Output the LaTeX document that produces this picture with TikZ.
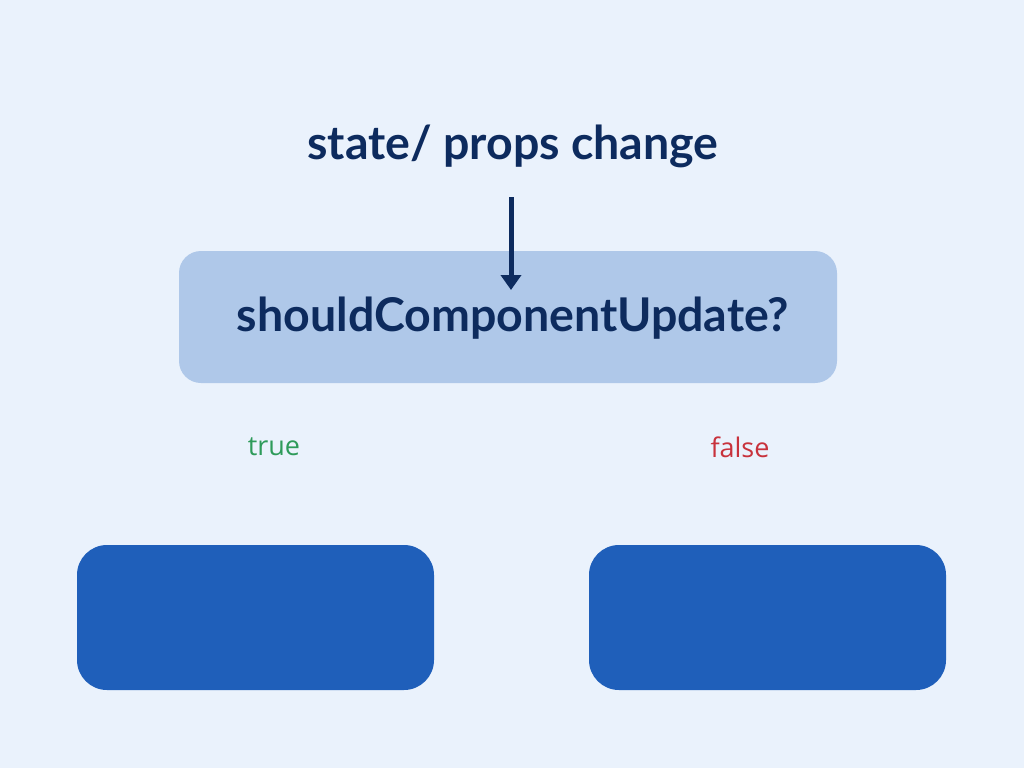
\documentclass[tikz,border=0pt]{standalone}
\usetikzlibrary{arrows.meta}
\usepackage{fontspec}
\setmainfont{Lato}
\newfontfamily\labelfont{Open Sans}
\definecolor{bg}{HTML}{EAF2FC}
\definecolor{lightbox}{HTML}{AFC8E9}
\definecolor{darkbox}{HTML}{1F5FBA}
\definecolor{navy}{HTML}{0D2B5E}
\definecolor{truegreen}{HTML}{2E9B5A}
\definecolor{falsered}{HTML}{C8323C}
\begin{document}
\begin{tikzpicture}[x=1pt,y=-1pt,
  titletext/.style={text=navy,font=\fontsize{46.5}{54}\selectfont\bfseries,inner sep=0pt},
  condtext/.style={font=\labelfont\fontsize{27}{31}\selectfont,inner sep=0pt},
  decision/.style={fill=lightbox,rounded corners=22pt},
  outcome/.style={fill=darkbox,rounded corners=30pt}]
\fill[bg] (0,0) rectangle (1024,768);
\useasboundingbox (0,0) rectangle (1024,768);
\fill[decision] (179,251) rectangle (837,383);
\fill[outcome] (77,545) rectangle (434,690);
\fill[outcome] (589,545) rectangle (946,690);
\node[titletext] (title) at (513,146) {state/ props change};
\node[titletext] (should) at (513,318) {shouldComponentUpdate?};
\node[condtext,text=truegreen] (true) at (274,447) {true};
\node[condtext,text=falsered] (false) at (740,447) {false};
\coordinate (arrowstart) at (511,197);
\coordinate (arrowend) at (511,290);
\draw[navy,line width=5pt,-{Triangle[length=15pt,width=20pt]}] (arrowstart) -- (arrowend);
\end{tikzpicture}
\end{document}
